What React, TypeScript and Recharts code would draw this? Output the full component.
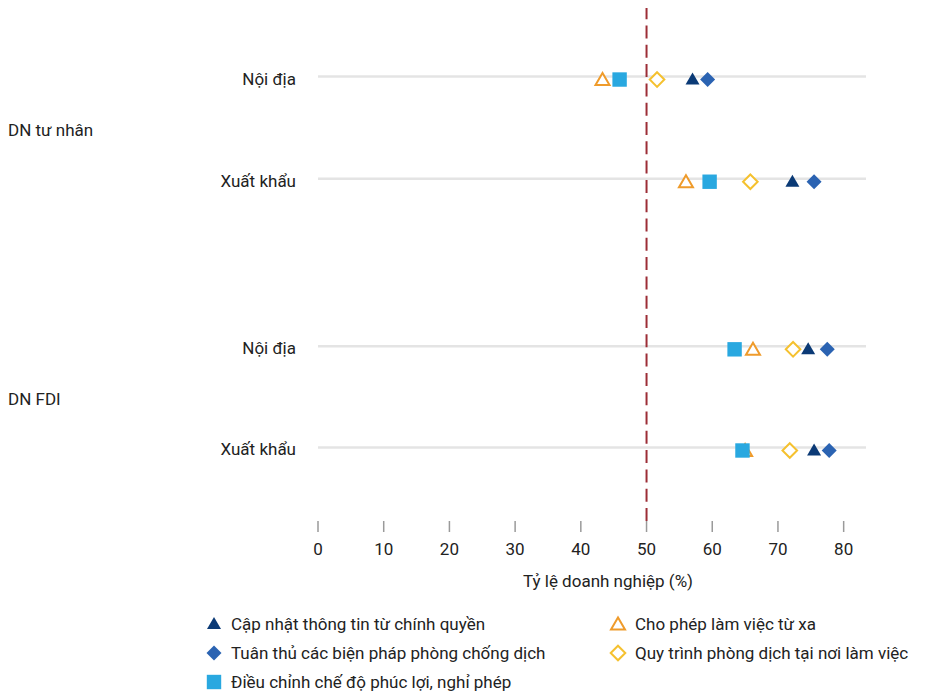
import React from 'react';
import { ScatterChart, Scatter, XAxis, YAxis, ReferenceLine, Legend } from 'recharts';

// Rows (top to bottom) and their vertical positions on the category scale
const rowLabels = ['Nội địa', 'Xuất khẩu', 'Nội địa', 'Xuất khẩu'];
const rowPositions = [0, 1, 2.64, 3.63];
const groupLabels = ['DN tư nhân', 'DN FDI'];
const groupPositions = [0.5, 3.135];
const xTicks = [0, 10, 20, 30, 40, 50, 60, 70, 80];
const thresholdValue = 50;

// Series values (% of firms), one per row
const capNhat = [57.0, 72.2, 74.6, 75.5];
const choPhep = [43.3, 56.0, 66.2, 65.0];
const tuanThu = [59.3, 75.5, 77.5, 77.8];
const quyTrinh = [51.6, 65.8, 72.3, 71.8];
const dieuChinh = [45.9, 59.6, 63.4, 64.6];

const seriesNames = [
  'Cập nhật thông tin từ chính quyền',
  'Cho phép làm việc từ xa',
  'Tuân thủ các biện pháp phòng chống dịch',
  'Quy trình phòng dịch tại nơi làm việc',
  'Điều chỉnh chế độ phúc lợi, nghỉ phép',
];

const NAVY = '#0b3a76';
const BLUE = '#2b63b2';
const CYAN = '#29a8e0';
const ORANGE = '#ef9b2b';
const YELLOW = '#f5c12f';
const FONT = 'Roboto, "Noto Sans", sans-serif';

const filledTriangle = (cx: number, cy: number, color: string) => (
  <polygon points={`${cx - 7},${cy + 5} ${cx + 7},${cy + 5} ${cx},${cy - 7}`} fill={color} />
);
const openTriangle = (cx: number, cy: number, color: string) => (
  <polygon
    points={`${cx - 7},${cy + 5.5} ${cx + 7},${cy + 5.5} ${cx},${cy - 6.5}`}
    fill="#fff"
    stroke={color}
    strokeWidth={2}
    strokeLinejoin="miter"
  />
);
const filledDiamond = (cx: number, cy: number, color: string) => (
  <polygon points={`${cx},${cy - 7.5} ${cx + 7.5},${cy} ${cx},${cy + 7.5} ${cx - 7.5},${cy}`} fill={color} />
);
const openDiamond = (cx: number, cy: number, color: string) => (
  <polygon
    points={`${cx},${cy - 7.3} ${cx + 7.3},${cy} ${cx},${cy + 7.3} ${cx - 7.3},${cy}`}
    fill="#fff"
    stroke={color}
    strokeWidth={2}
  />
);
const filledSquare = (cx: number, cy: number, color: string) => (
  <rect x={cx - 7.2} y={cy - 7.2} width={14.4} height={14.4} fill={color} />
);

const series = [
  { name: seriesNames[0], values: capNhat, color: NAVY, draw: filledTriangle },
  { name: seriesNames[1], values: choPhep, color: ORANGE, draw: openTriangle },
  { name: seriesNames[2], values: tuanThu, color: BLUE, draw: filledDiamond },
  { name: seriesNames[3], values: quyTrinh, color: YELLOW, draw: openDiamond },
  { name: seriesNames[4], values: dieuChinh, color: CYAN, draw: filledSquare },
];

const yTicks = [...rowPositions, ...groupPositions].sort((a, b) => a - b);

const YTick = (props: any) => {
  const { x, y, payload } = props;
  const ri = rowPositions.indexOf(payload.value);
  if (ri >= 0) {
    return (
      <text x={x} y={y} dy={5} textAnchor="end" fontSize={17} fill="#222" fontFamily={FONT}>
        {rowLabels[ri]}
      </text>
    );
  }
  const gi = groupPositions.indexOf(payload.value);
  return (
    <text x={0} y={y} dy={5} textAnchor="start" fontSize={17} fill="#222" fontFamily={FONT}>
      {groupLabels[gi]}
    </text>
  );
};

const LegendContent = () => (
  <div
    style={{
      display: 'grid',
      gridTemplateColumns: '404px auto',
      gridAutoRows: '29px',
      paddingLeft: 197,
      fontFamily: FONT,
      fontSize: 17,
      lineHeight: '20px',
      color: '#222',
    }}
  >
    {series.map((s) => (
      <div key={s.name} style={{ display: 'flex', alignItems: 'center', whiteSpace: 'nowrap' }}>
        <svg width={18} height={18} style={{ display: 'block' }}>
          {s.draw(9, 9, s.color)}
        </svg>
        <span style={{ marginLeft: 8 }}>{s.name}</span>
      </div>
    ))}
  </div>
);

export default function App() {
  return (
    <div style={{ fontFamily: FONT }}>
      <ScatterChart
        width={909}
        height={684}
        margin={{ top: 0, right: 51, bottom: 0, left: 0 }}
        style={{ fontFamily: FONT }}
      >
        <XAxis
          type="number"
          dataKey="x"
          domain={[0, 83.4]}
          ticks={xTicks}
          allowDataOverflow
          axisLine={false}
          tickSize={11}
          tickMargin={11}
          tickLine={{ stroke: '#9a9a9a', strokeWidth: 1.5 }}
          tick={{ fontSize: 17, fill: '#222', fontFamily: FONT }}
          height={171}
          label={{
            value: 'Tỷ lệ doanh nghiệp (%)',
            position: 'insideTop',
            offset: 54,
            dx: 16,
            fontSize: 17,
            fill: '#222',
            fontFamily: FONT,
          }}
        />
        <YAxis
          type="number"
          dataKey="y"
          domain={[-0.7, 4.32]}
          reversed
          ticks={yTicks}
          interval={0}
          axisLine={false}
          tickLine={false}
          tickSize={0}
          tickMargin={22}
          width={310}
          tick={<YTick />}
        />
        {rowPositions.map((p) => (
          <ReferenceLine
            key={`g${p}`}
            y={p}
            shape={(lp: any) => (
              <line x1={lp.x1} x2={lp.x2} y1={lp.y1 - 3} y2={lp.y2 - 3} stroke="#e4e4e4" strokeWidth={2.5} />
            )}
          />
        ))}
        <ReferenceLine x={thresholdValue} stroke="#9c2d36" strokeWidth={2} strokeDasharray="13 6.3" />
        {series.map((s) => (
          <Scatter
            key={s.name}
            name={s.name}
            data={rowPositions.map((y, i) => ({ x: s.values[i], y }))}
            isAnimationActive={false}
            shape={(p: any) => s.draw(p.cx, p.cy, s.color)}
          />
        ))}
        <Legend
          layout="horizontal"
          verticalAlign="middle"
          align="center"
          wrapperStyle={{ top: 601, left: 0, width: 909 }}
          content={<LegendContent />}
        />
      </ScatterChart>
    </div>
  );
}
